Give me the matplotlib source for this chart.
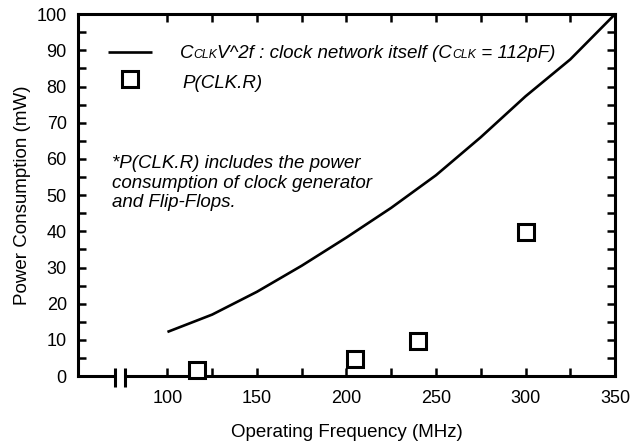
import matplotlib
matplotlib.use("Agg")
import matplotlib.pyplot as plt
from matplotlib.offsetbox import TextArea, HPacker, AnchoredOffsetbox
from matplotlib.transforms import blended_transform_factory

plt.rcParams['font.family'] = ['Liberation Sans', 'DejaVu Sans']

# Clock network power C*V^2*f versus operating frequency
freq_curve = [100, 125, 150, 175, 200, 225, 250, 275, 300, 325, 350]
power_curve = [12.2, 17.0, 23.3, 30.5, 38.3, 46.5, 55.5, 66.0, 77.3, 87.5, 100.0]

# Measured P(CLK.R)
freq_meas = [116.5, 205, 240, 300]
power_meas = [1.7, 4.6, 9.7, 39.9]

x_ticks = [100, 150, 200, 250, 300, 350]
x_minor = [125, 175, 225, 275, 325]
y_ticks = [0, 10, 20, 30, 40, 50, 60, 70, 80, 90, 100]
y_minor = [5, 15, 25, 35, 45, 55, 65, 75, 85, 95]

fig = plt.figure(figsize=(6.44, 4.43), dpi=100)
ax = fig.add_axes([0.121, 0.151, 0.834, 0.817])

ax.plot(freq_curve, power_curve, color='black', lw=1.9, solid_capstyle='butt')
ax.plot(freq_meas, power_meas, linestyle='none', marker='s', markersize=11,
        markerfacecolor='white', markeredgecolor='black', markeredgewidth=2.2,
        clip_on=False, zorder=5)

ax.set_xlim(50, 350)
ax.set_ylim(0, 100)
ax.set_xticks(x_ticks)
ax.set_xticks(x_minor, minor=True)
ax.set_yticks(y_ticks)
ax.set_yticks(y_minor, minor=True)
ax.tick_params(which='both', direction='in', length=6, width=1.8,
               top=True, right=True, labelsize=13)
ax.tick_params(axis='x', which='both', pad=10)
ax.tick_params(axis='y', which='both', pad=8)
for s in ax.spines.values():
    s.set_linewidth(2.2)

ax.set_xlabel('Operating Frequency (MHz)', fontsize=13.5, labelpad=12)
ax.set_ylabel('Power Consumption (mW)', fontsize=13.5, labelpad=4)

# Axis break on the frequency axis
trans = blended_transform_factory(ax.transData, ax.transAxes)
brk = (70.7, 76.3)
ax.fill_between(brk, -0.01, 0.01, transform=trans, color='white',
                zorder=6, clip_on=False, lw=0)
for xb in brk:
    ax.plot([xb, xb], [-0.030, 0.022], transform=trans, color='black',
            lw=2.2, clip_on=False, zorder=7, solid_capstyle='butt')

# Legend entries
ax.plot([66.8, 91.3], [89.5, 89.5], color='black', lw=1.9, solid_capstyle='butt')
ax.plot([79.0], [82.0], linestyle='none', marker='s', markersize=11,
        markerfacecolor='white', markeredgecolor='black', markeredgewidth=2.2)

big = dict(fontsize=13.5, style='italic', color='black')
small = dict(fontsize=8.8, style='italic', color='black')
parts = [TextArea('C', textprops=big), TextArea('CLK', textprops=small),
         TextArea('V^2f : clock network itself (C', textprops=big),
         TextArea('CLK', textprops=small),
         TextArea(' = 112pF)', textprops=big)]
box = HPacker(children=parts, align='baseline', pad=0, sep=0)
fig.add_artist(AnchoredOffsetbox(loc='center left', child=box, pad=0, borderpad=0,
                                 frameon=False,
                                 bbox_to_anchor=(180 / 644, 1 - 53 / 443),
                                 bbox_transform=fig.transFigure))

fig.text(182 / 644, 1 - 83 / 443, 'P(CLK.R)', fontsize=13.5, style='italic',
         va='center', ha='left')

note = '*P(CLK.R) includes the power\nconsumption of clock generator\nand Flip-Flops.'
fig.text(112 / 644, 1 - 183 / 443, note, fontsize=13.5, style='italic',
         va='center', ha='left', linespacing=1.18)

fig.savefig('out.png', dpi=100)
